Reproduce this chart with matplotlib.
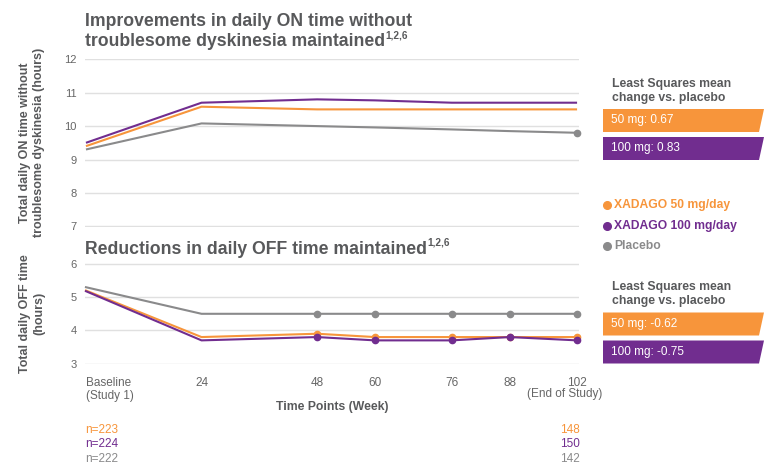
import matplotlib
matplotlib.use('Agg')
import matplotlib.pyplot as plt
from matplotlib.patches import Polygon
from matplotlib.lines import Line2D

plt.rcParams['font.family'] = ['Liberation Sans', 'DejaVu Sans']

# ---------------- data ----------------
weeks = [0, 24, 48, 60, 76, 88, 102]
week_labels = ["Baseline\n(Study 1)", "24", "48", "60", "76", "88", "102"]

on_50 = [9.4, 10.58, 10.5, 10.5, 10.5, 10.5, 10.5]
on_100 = [9.5, 10.7, 10.8, 10.77, 10.7, 10.7, 10.7]
on_pbo = [9.3, 10.08, 10.0, 9.96, 9.9, 9.85, 9.8]

off_50 = [5.2, 3.8, 3.9, 3.8, 3.8, 3.8, 3.8]
off_100 = [5.18, 3.7, 3.8, 3.7, 3.7, 3.8, 3.7]
off_pbo = [5.3, 4.5, 4.5, 4.5, 4.5, 4.5, 4.5]

series_names = ["XADAGO 50 mg/day", "XADAGO 100 mg/day", "Placebo"]
ls_on = ["50 mg: 0.67", "100 mg: 0.83"]
ls_off = ["50 mg: -0.62", "100 mg: -0.75"]
n_start = ["n=223", "n=224", "n=222"]
n_end = ["148", "150", "142"]

on_ticks = [7, 8, 9, 10, 11, 12]
off_ticks = [3, 4, 5, 6]

# ---------------- style ----------------
ORANGE = '#f7953b'
PURPLE = '#712d8f'
GRAY = '#8a8a8b'
colors = [ORANGE, PURPLE, GRAY]
TXT = '#58595b'
TICK = '#666666'
GRID = '#e0e0e0'

W, H = 780, 471
fig = plt.figure(figsize=(W / 100, H / 100), dpi=100)


def fx(x):
    return x / W


def fy(y):
    return 1 - y / H


def style_axes(ax, ticks):
    for s in ax.spines.values():
        s.set_visible(False)
    ax.set_yticks(ticks)
    ax.tick_params(axis='both', length=0, labelsize=8, labelcolor=TICK)
    ax.tick_params(axis='y', pad=6)
    ax.yaxis.grid(True, color=GRID, lw=1.0)
    ax.set_axisbelow(True)
    ax.set_xlim(-0.2, 102.4)
    ax.set_ylim(ticks[0] - 0.02, ticks[-1] + 0.02)


# top axes
ax1 = fig.add_axes([fx(85), fy(227), fx(494), 168.4 / H])
style_axes(ax1, on_ticks)
ax1.set_xticks([])
for vals, c in zip([on_pbo, on_50, on_100], [GRAY, ORANGE, PURPLE]):
    ax1.plot(weeks, vals, color=c, lw=1.5, solid_capstyle='butt')
ax1.plot(weeks[-1:], on_pbo[-1:], 'o', color=GRAY, ms=4.5, clip_on=False)
ax1.set_ylabel("Total daily ON time without\ntroublesome dyskinesia (hours)",
               fontsize=9, fontweight='bold', color=TXT, linespacing=1.2)
ax1.yaxis.set_label_coords(-0.081, 0.5)

# bottom axes
ax2 = fig.add_axes([fx(85), fy(364.3), fx(494), 101 / H])
style_axes(ax2, off_ticks)
for vals, c in zip([off_pbo, off_50, off_100], [GRAY, ORANGE, PURPLE]):
    ax2.plot(weeks, vals, color=c, lw=1.5, marker='o', ms=4.5,
             markevery=list(range(2, len(weeks))), clip_on=False)
ax2.set_xticks(weeks, week_labels)
ax2.tick_params(axis='x', pad=9.5, labelsize=8.5)
for lab in ax2.get_xticklabels():
    lab.set_linespacing(1.05)
ax2.get_xticklabels()[0].set_ha('left')
ax2.annotate("(End of Study)", xy=(weeks[-1], 0), xycoords=('data', 'axes fraction'),
             xytext=(25, -30), textcoords='offset pixels', ha='right', va='center',
             fontsize=8.5, color=TICK)
ax2.set_xlabel("Time Points (Week)", fontsize=8.8, fontweight='bold', color=TXT)
ax2.xaxis.set_label_coords(0.5, -0.425)
ax2.xaxis.label.set_va('center')
ax2.set_ylabel("Total daily OFF time\n(hours)", fontsize=9, fontweight='bold',
               color=TXT, linespacing=1.2)
ax2.yaxis.set_label_coords(-0.081, 0.5)

# titles with superscripts
title_specs = [
    ("Improvements in daily ON time without", 21.7, False),
    ("troublesome dyskinesia maintained", 41.7, True),
    ("Reductions in daily OFF time maintained", 249, True),
]
title_objs = []
for txt, y, sup in title_specs:
    t = fig.text(fx(85), fy(y), txt, fontsize=12.7, fontweight='bold', color=TXT,
                 va='center', ha='left')
    title_objs.append((t, y, sup))

fig.canvas.draw()
renderer = fig.canvas.get_renderer()
for t, y, sup in title_objs:
    if sup:
        bb = t.get_window_extent(renderer)
        fig.text(bb.x1 / W + 0.5 / W, fy(y - 6.5), "1,2,6", fontsize=7.2,
                 fontweight='bold', color=TXT, va='center', ha='left')

# right-hand panels
def ls_panel(y0, labels):
    fig.text(fx(612), fy(y0), "Least Squares mean", fontsize=8.8, fontweight='bold',
             color=TXT, va='center')
    fig.text(fx(612), fy(y0 + 14), "change vs. placebo", fontsize=8.8, fontweight='bold',
             color=TXT, va='center')
    tops = [y0 + 25.5, y0 + 53.5]
    for top, lab, c in zip(tops, labels, [ORANGE, PURPLE]):
        bot = top + 23
        poly = Polygon([(fx(603), fy(top)), (fx(764), fy(top)),
                        (fx(759), fy(bot)), (fx(603), fy(bot))],
                       closed=True, transform=fig.transFigure, facecolor=c,
                       edgecolor='none')
        fig.patches.append(poly)
        fig.text(fx(611), fy((top + bot) / 2), lab, fontsize=8.5, color='white',
                 va='center', ha='left')


ls_panel(83.5, ls_on)
ls_panel(287, ls_off)

# legend
for name, c, y in zip(series_names, colors, [205, 226, 246]):
    fig.add_artist(Line2D([fx(607)], [fy(y)], marker='o', ms=5.5, color=c,
                          transform=fig.transFigure, linestyle='none'))
    fig.text(fx(614), fy(y), name, fontsize=8.7, fontweight='bold', color=c,
             va='center', ha='left')

# n rows
for a, b, c, y in zip(n_start, n_end, colors, [430, 444, 459]):
    fig.text(fx(85), fy(y), a, fontsize=8.5, color=c, va='center', ha='left')
    fig.text(fx(580), fy(y), b, fontsize=8.5, color=c, va='center', ha='right')

fig.savefig('out.png', dpi=100)
